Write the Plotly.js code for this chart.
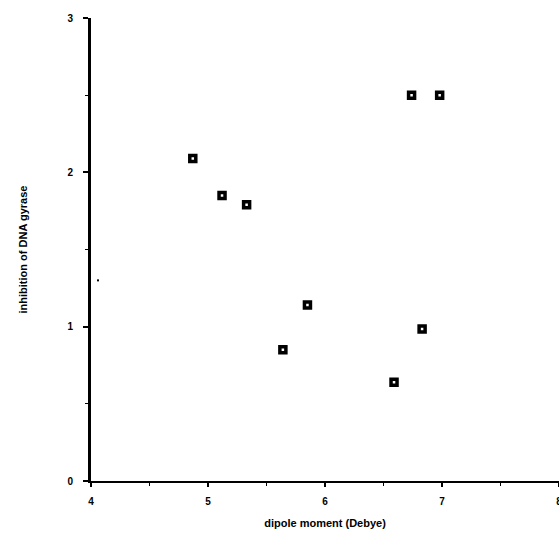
<!DOCTYPE html>
<html>
<head>
<meta charset="utf-8">
<script src="https://cdn.plot.ly/plotly-3.0.1.min.js"></script>
<style>html,body{margin:0;padding:0;background:#fff;}#chart{width:559px;height:533px;}</style>
</head>
<body>
<div id="chart"></div>
<script>
const dipoleMoment = [4.87, 5.12, 5.33, 5.85, 5.64, 6.74, 6.98, 6.83, 6.59];
const gyraseInhibition = [2.09, 1.85, 1.79, 1.14, 0.85, 2.50, 2.50, 0.985, 0.64];
const speckX = [4.06];
const speckY = [1.30];
const xTicks = [4, 5, 6, 7, 8];
const yTicks = [0, 1, 2, 3];

const data = [
  {
    x: dipoleMoment, y: gyraseInhibition, type: 'scatter', mode: 'markers',
    marker: {symbol: 'square-open', size: 6, color: '#000', line: {color: '#000', width: 3.5}},
    cliponaxis: false, hoverinfo: 'none'
  },
  {
    x: speckX, y: speckY, type: 'scatter', mode: 'markers',
    marker: {symbol: 'square', size: 2, color: '#000'}, hoverinfo: 'none'
  }
];

const fontTick = {family: 'Liberation Sans, Arial, sans-serif', size: 10, color: '#000', weight: 'bold'};
const fontTitle = {family: 'Liberation Sans, Arial, sans-serif', size: 11, color: '#000', weight: 'bold'};
const layout = {
  width: 559, height: 533,
  margin: {l: 91, r: 0, t: 18, b: 52},
  paper_bgcolor: '#fff', plot_bgcolor: '#fff',
  showlegend: false,
  xaxis: {
    range: [4, 8], tickvals: xTicks, ticktext: xTicks.map(String),
    showgrid: false, zeroline: false, showline: true, linecolor: '#000', linewidth: 2,
    ticks: 'outside', ticklen: 4, tickwidth: 2, tickcolor: '#000',
    ticklabelstandoff: 6, ticklabeloverflow: 'allow',
    minor: {dtick: 0.5, tick0: 4, ticks: 'outside', ticklen: 3, tickwidth: 1, tickcolor: '#000'},
    tickfont: fontTick,
    title: {text: 'dipole moment (Debye)', font: fontTitle, standoff: 13},
    automargin: false
  },
  yaxis: {
    range: [0, 3], tickvals: yTicks, ticktext: yTicks.map(String),
    showgrid: false, zeroline: false, showline: true, linecolor: '#000', linewidth: 3,
    ticks: 'outside', ticklen: 5, tickwidth: 2, tickcolor: '#000',
    ticklabelstandoff: 8,
    minor: {dtick: 0.5, tick0: 0, ticks: 'outside', ticklen: 3, tickwidth: 1, tickcolor: '#000'},
    tickfont: fontTick,
    title: {text: 'inhibition of DNA gyrase', font: fontTitle, standoff: 38},
    automargin: false
  }
};
Plotly.newPlot('chart', data, layout, {staticPlot: true, displayModeBar: false});
</script>
</body>
</html>
